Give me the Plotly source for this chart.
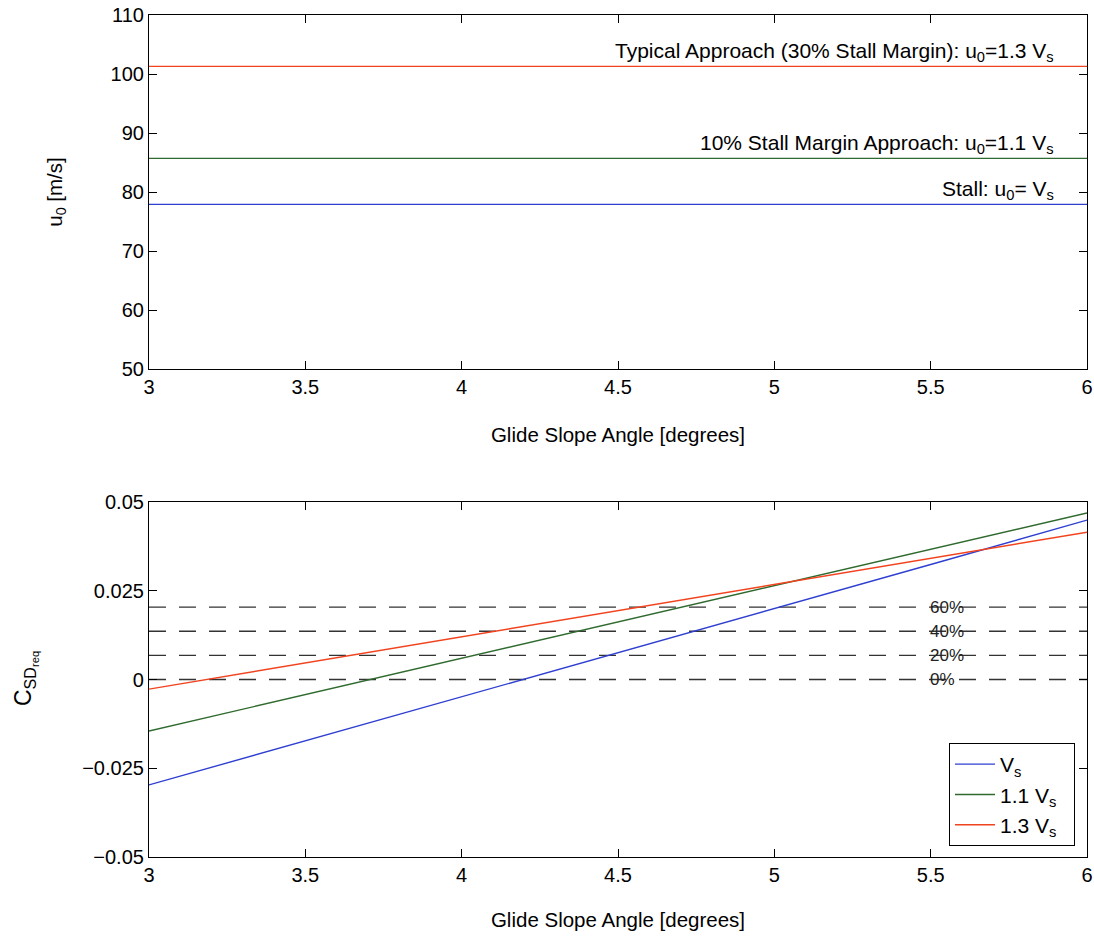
import plotly.graph_objects as go

# ---------------- data ----------------
glide_x = [3.0, 6.0]
u0_vs = [77.9, 77.9]
u0_11vs = [85.7, 85.7]
u0_13vs = [101.3, 101.3]

angle = [3.0, 3.5, 4.0, 4.5, 5.0, 5.5, 6.0]
csd_vs = [-0.0297, -0.0173, -0.0048, 0.0074, 0.0200, 0.0324, 0.0449]
csd_11vs = [-0.0145, -0.0043, 0.0060, 0.0162, 0.0264, 0.0367, 0.0469]
csd_13vs = [-0.0027, 0.0047, 0.0120, 0.0194, 0.0268, 0.0341, 0.0415]

margin_pct = ["0%", "20%", "40%", "60%"]
margin_val = [0.0, 0.0068, 0.0136, 0.0204]

top_labels = ["Stall: u<sub>0</sub>= V<sub>s</sub>",
              "10% Stall Margin Approach: u<sub>0</sub>=1.1 V<sub>s</sub>",
              "Typical Approach (30% Stall Margin): u<sub>0</sub>=1.3 V<sub>s</sub>"]
legend_names = ["V<sub>s</sub>  ", "1.1 V<sub>s</sub>  ", "1.3 V<sub>s</sub>  "]

BLUE = "#2f3fd0"
GREEN = "#2f6a2f"
RED = "#f2431f"
colors = [BLUE, GREEN, RED]
FONT = "Liberation Sans, Arial, sans-serif"

fig = go.Figure()

# top panel
for yv, c in zip([u0_vs, u0_11vs, u0_13vs], colors):
    fig.add_trace(go.Scatter(x=glide_x, y=yv, mode="lines", line=dict(color=c, width=1.4),
                             showlegend=False, xaxis="x", yaxis="y", hoverinfo="skip"))

# bottom panel dashed margin lines
for v in margin_val:
    fig.add_trace(go.Scatter(x=[3, 6], y=[v, v], mode="lines",
                             line=dict(color="#333333", width=1.4, dash="17px,13px"),
                             showlegend=False, xaxis="x2", yaxis="y2", hoverinfo="skip"))

for yv, c, n in zip([csd_vs, csd_11vs, csd_13vs], colors, legend_names):
    fig.add_trace(go.Scatter(x=angle, y=yv, mode="lines", line=dict(color=c, width=1.4),
                             name=n, xaxis="x2", yaxis="y2"))

W, H = 1094, 939


def px(v):
    return v / W


def py(v):
    return 1 - v / H


xdom = [px(149), px(1087)]
axis_common = dict(showline=True, linecolor="black", linewidth=1.2, mirror="ticks",
                   ticks="inside", ticklen=8, tickcolor="black", showgrid=False,
                   zeroline=False, automargin=False,
                   tickfont=dict(size=20, color="black", family=FONT))

annotations = []
for lbl, yv in zip(top_labels, [u0_vs[0], u0_11vs[0], u0_13vs[0]]):
    annotations.append(dict(x=5.9, y=yv, xref="x", yref="y", text=lbl, showarrow=False,
                            xanchor="right", yanchor="bottom", yshift=-1,
                            font=dict(size=21, color="black", family=FONT)))
for lbl, v in zip(margin_pct, margin_val):
    annotations.append(dict(x=5.49, y=v, xref="x2", yref="y2", text=lbl, showarrow=False,
                            xanchor="left", yanchor="middle",
                            font=dict(size=17, color="#222222", family=FONT)))
annotations.append(dict(x=px(25), y=py(679), xref="paper", yref="paper",
                        text="C<sub>SD<sub>req</sub></sub>", textangle=-90, showarrow=False,
                        xanchor="center", yanchor="middle",
                        font=dict(size=23, color="black", family=FONT)))

title_font = dict(size=20.5, color="black", family=FONT)
fig.update_layout(
    width=W, height=H,
    margin=dict(l=0, r=0, t=0, b=0),
    paper_bgcolor="white", plot_bgcolor="white",
    font=dict(family=FONT, color="black", size=20),
    xaxis=dict(domain=xdom, anchor="y", range=[3, 6], tickvals=[3, 3.5, 4, 4.5, 5, 5.5, 6],
               title=dict(text="Glide Slope Angle [degrees]", font=title_font, standoff=30),
               **axis_common),
    yaxis=dict(domain=[py(369), py(15)], anchor="x", range=[50, 110],
               tickvals=[50, 60, 70, 80, 90, 100, 110],
               title=dict(text="u<sub>0</sub> [m/s]", font=title_font, standoff=42),
               **axis_common),
    xaxis2=dict(domain=xdom, anchor="y2", range=[3, 6], tickvals=[3, 3.5, 4, 4.5, 5, 5.5, 6],
                title=dict(text="Glide Slope Angle [degrees]", font=title_font, standoff=27),
                **axis_common),
    yaxis2=dict(domain=[py(857), py(502)], anchor="x2", range=[-0.05, 0.05],
                tickvals=[-0.05, -0.025, 0, 0.025, 0.05],
                ticktext=["\u22120.05", "\u22120.025", "0", "0.025", "0.05"],
                **axis_common),
    legend=dict(x=px(1075), y=py(846), xanchor="right", yanchor="bottom",
                bordercolor="black", borderwidth=1, bgcolor="white", itemwidth=40,
                font=dict(size=21, family=FONT), tracegroupgap=0),
    annotations=annotations,
)

fig.write_html("out.html", config={"displayModeBar": False},
               post_script="document.body.style.margin='0px';document.body.style.overflow='hidden';")
